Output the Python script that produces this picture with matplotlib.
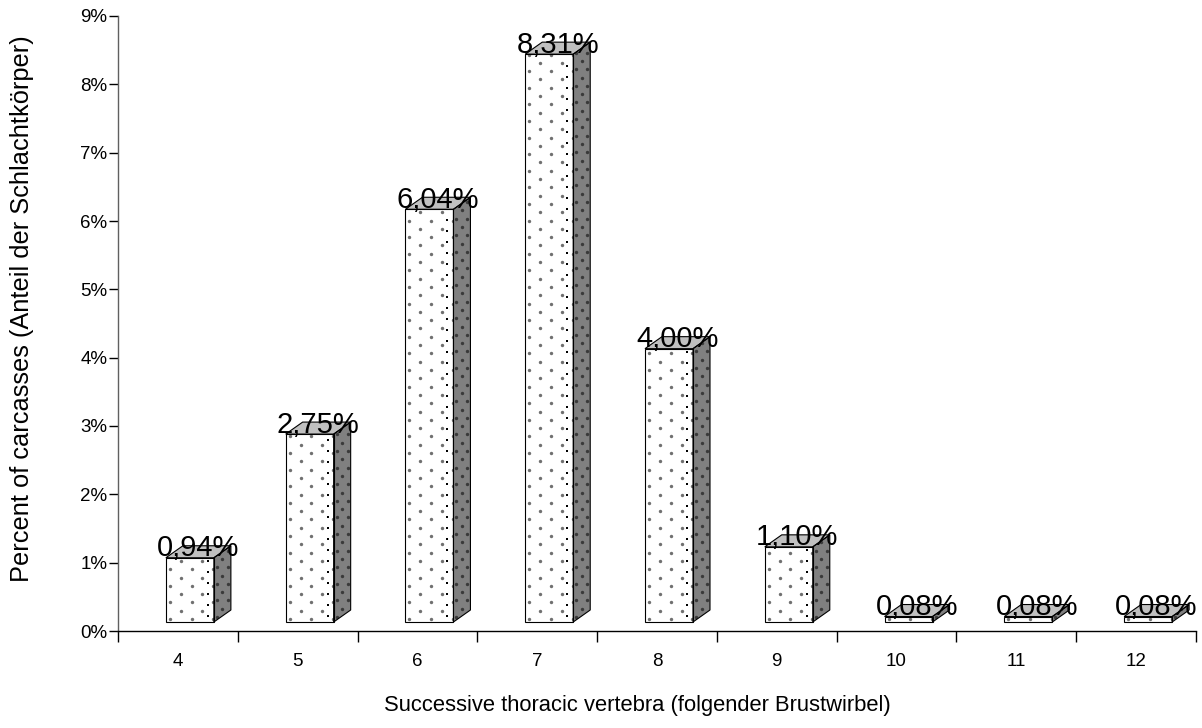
import matplotlib
matplotlib.use("Agg")
import numpy as np
import matplotlib.pyplot as plt
from matplotlib.patches import Polygon
from matplotlib.ticker import FixedLocator, FuncFormatter

plt.rcParams['font.family'] = ['Liberation Sans', 'DejaVu Sans']

# Data
vertebrae = ['4', '5', '6', '7', '8', '9', '10', '11', '12']
percent = [0.94, 2.75, 6.04, 8.31, 4.00, 1.10, 0.08, 0.08, 0.08]
label_text = ['0,94%', '2,75%', '6,04%', '8,31%', '4,00%', '1,10%', '0,08%', '0,08%', '0,08%']

fig = plt.figure(figsize=(12.02, 7.28), dpi=100)
W, H = 1202, 728
ax = fig.add_axes([118 / W, 1 - 631 / H, (1196 - 118) / W, (631 - 16) / H])
ax.set_xlim(0, len(vertebrae))
ax.set_ylim(0, 9)

# 3D column geometry (category units horizontally, percent vertically)
px_y = 9 / (631 - 16)          # percent per pixel
px_x = len(vertebrae) / (1196 - 118)
base = 9 * px_y                # front face floor sits slightly above the axis
front_off = -12 * px_x
front_w = 48 * px_x
dx = 17 * px_x
dy = 12 * px_y


def dotted(poly_pts, x_start, x_end, y_start, y_end, color, size, row_px=8.3, col_px=21.7):
    """Staggered dot texture clipped to a face."""
    xs, ys = [], []
    rows = np.arange(y_start, y_end + row_px * px_y, row_px * px_y)
    for r, yy in enumerate(rows):
        shift = (col_px / 2) * px_x if r % 2 else 0.0
        cols = np.arange(x_start + 4 * px_x + shift, x_end, col_px * px_x)
        xs.extend(cols)
        ys.extend([yy] * len(cols))
    clip = Polygon(poly_pts, closed=True, transform=ax.transData)
    sc = ax.scatter(xs, ys, s=size, c=color, marker='o', linewidths=0,
                    zorder=2.5, clip_on=True)
    sc.set_clip_path(clip)


def face(pts, fc):
    ax.add_patch(Polygon(pts, closed=True, facecolor=fc, edgecolor='none',
                         clip_on=False, zorder=2))
    ax.add_patch(Polygon(pts, closed=True, fill=False, edgecolor='black',
                         linewidth=0.8, clip_on=False, zorder=3))


for i, (v, txt) in enumerate(zip(percent, label_text)):
    x0 = i + 0.5 + front_off
    x1 = x0 + front_w
    y0 = base
    y1 = base + v
    front = [(x0, y0), (x1, y0), (x1, y1), (x0, y1)]
    side = [(x1, y0), (x1 + dx, y0 + dy), (x1 + dx, y1 + dy), (x1, y1)]
    top = [(x0, y1), (x1, y1), (x1 + dx, y1 + dy), (x0 + dx, y1 + dy)]
    face(front, 'white')
    face(side, '#808080')
    face(top, '#c0c0c0')
    # gray dot texture on the front, darker dots on the side
    dotted(front, x0, x1, y0 + 3 * px_y, y1, '#707070', 6.0)
    dotted(side, x1 - 1 * px_x, x1 + dx, y0 + 5 * px_y, y1 + dy, '#3a3a3a', 6.0,
           col_px=11)
    # narrow column of dark squares along the right side of the front face
    sq_y = np.arange(y0 + 6 * px_y, y1 - 2 * px_y, 11 * px_y)
    ax.scatter(np.full(len(sq_y), x1 - 6 * px_x), sq_y, s=3.5, c='black',
               marker='s', linewidths=0, zorder=2.6)
    ax.text((x0 + x1 + dx) / 2, y1 + 1.5 * px_y, txt, ha='center', va='baseline',
            fontsize=21, color='black', zorder=5, clip_on=False)

for s in ['top', 'right']:
    ax.spines[s].set_visible(False)
ax.spines['left'].set_color('#606060')
ax.spines['left'].set_linewidth(1.0)
ax.spines['bottom'].set_color('black')
ax.spines['bottom'].set_linewidth(1.0)

ax.yaxis.set_major_locator(FixedLocator(range(0, 10)))
ax.yaxis.set_major_formatter(FuncFormatter(lambda y, p: f"{int(round(y))}%"))
ax.tick_params(axis='y', direction='out', length=6.5, width=1.0, labelsize=13.5, pad=1)

ax.xaxis.set_major_locator(FixedLocator(range(0, len(vertebrae) + 1)))
ax.xaxis.set_major_formatter(FuncFormatter(lambda x, p: ''))
ax.xaxis.set_minor_locator(FixedLocator([i + 0.5 for i in range(len(vertebrae))]))
ax.set_xticklabels(vertebrae, minor=True)
ax.tick_params(axis='x', which='major', direction='out', length=8, width=1.0)
ax.tick_params(axis='x', which='minor', length=0, labelsize=13.5, pad=16)

fig.text(637 / W, 1 - 705 / H, 'Successive thoracic vertebra (folgender Brustwirbel)',
         ha='center', va='center', fontsize=15.8)
fig.text(22 / W, 1 - 309 / H, 'Percent of carcasses (Anteil der Schlachtkörper)',
         ha='center', va='center', rotation=90, fontsize=18.3)

fig.savefig('out.png', dpi=100)
